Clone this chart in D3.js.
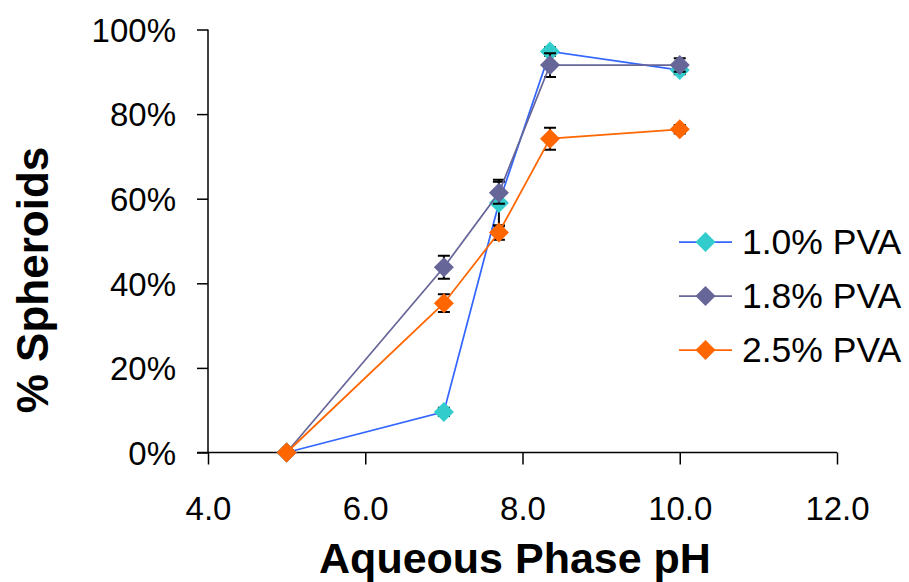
<!DOCTYPE html>
<html><head><meta charset="utf-8">
<script src="https://cdn.jsdelivr.net/npm/d3@7"></script>
<style>body{margin:0;background:#fff}svg{display:block}text{font-family:"Liberation Sans",Arial,sans-serif}</style>
</head><body>
<script>
const phValues = [5, 7, 7.7, 8.35, 10];
const seriesNames = ["1.0% PVA", "1.8% PVA", "2.5% PVA"];
const pva10 = [0, 9.6, 59.0, 94.8, 90.4];
const pva18 = [0, 43.8, 61.4, 91.6, 91.6];
const pva25 = [0, 35.3, 52.0, 74.2, 76.4];
const err10 = [0, 1.0, 5.5, 1.0, 1.0];
const err18 = [0, 2.7, 2.6, 2.8, 1.6];
const err25 = [0, 2.1, 1.7, 2.6, 1.0];
const xTicks = [4, 6, 8, 10, 12];
const yTicks = [0, 20, 40, 60, 80, 100];
const markerColors = ["#33CCCC", "#666699", "#FF6600"];
const lineColors = ["#3366FF", "#666699", "#FF6600"];

const W = 909, H = 582;
const svg = d3.select("body").append("svg").attr("width", W).attr("height", H);
const x = d3.scaleLinear().domain([4, 12]).range([208, 837]);
const y = d3.scaleLinear().domain([0, 100]).range([452.5, 29.5]);

// axes
const xAxis = svg.append("g").attr("transform", `translate(0,${y(0)})`)
  .call(d3.axisBottom(x).tickValues(xTicks).tickFormat(d3.format(".1f")).tickSize(12).tickPadding(32));
const yAxis = svg.append("g").attr("transform", `translate(${x(4)},0)`)
  .call(d3.axisLeft(y).tickValues(yTicks).tickFormat(d => d + "%").tickSize(11).tickPadding(21));
[xAxis, yAxis].forEach(g => {
  g.select(".domain").attr("stroke", "#000").attr("stroke-width", 1.5);
  g.selectAll(".tick line").attr("stroke", "#000").attr("stroke-width", 1.5);
  g.selectAll(".tick text").attr("fill", "#000").style("font-size", "33px");
});
xAxis.select(".domain").attr("d", `M${x(4)-11},0H${x(12)}`);
yAxis.select(".domain").attr("d", `M0,${y(100)}V${y(0)}`);
yAxis.selectAll(".tick text").attr("dy", "0.36em");

// titles
svg.append("text").attr("x", 515).attr("y", 573).attr("text-anchor", "middle")
  .style("font-size", "43px").style("font-weight", "bold").text("Aqueous Phase pH");
svg.append("text").attr("transform", "translate(48,280) rotate(-90)").attr("text-anchor", "middle")
  .style("font-size", "44px").style("font-weight", "bold").text("% Spheroids");

const seriesVals = [pva10, pva18, pva25];
const seriesErr = [err10, err18, err25];
const dPath = "M0,-10L10,0L0,10L-10,0Z";

seriesVals.forEach((vals, si) => {
  const pts = phValues.map((p, i) => ({p, v: vals[i], e: seriesErr[si][i]}));
  const g = svg.append("g");
  pts.filter(d => d.e > 0).forEach(d => {
    const cx = x(d.p);
    g.append("path").attr("fill", "none").attr("stroke", "#000").attr("stroke-width", 2)
      .attr("d", `M${cx},${y(d.v + d.e)}V${y(d.v - d.e)}M${cx-6},${y(d.v + d.e)}H${cx+6}M${cx-6},${y(d.v - d.e)}H${cx+6}`);
  });
  g.append("path").datum(pts).attr("fill", "none").attr("stroke", lineColors[si]).attr("stroke-width", 1.75)
    .attr("d", d3.line().x(d => x(d.p)).y(d => y(d.v)));
  g.selectAll(".m").data(pts).enter().append("path")
    .attr("transform", d => `translate(${x(d.p)},${y(d.v)})`)
    .attr("d", dPath).attr("fill", markerColors[si]);
});

// legend
const lg = svg.append("g");
seriesNames.forEach((name, i) => {
  const ry = 242 + i * 54;
  lg.append("line").attr("x1", 679).attr("x2", 732).attr("y1", ry).attr("y2", ry)
    .attr("stroke", lineColors[i]).attr("stroke-width", 1.75);
  lg.append("path").attr("transform", `translate(705.5,${ry})`).attr("d", dPath).attr("fill", markerColors[i]);
  lg.append("text").attr("x", 742).attr("y", ry + 12).style("font-size", "35.5px").text(name);
});
</script>
</body></html>
